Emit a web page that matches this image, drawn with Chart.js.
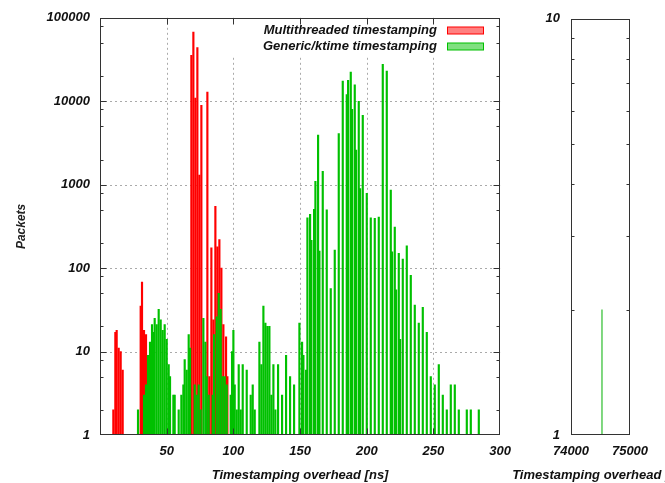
<!DOCTYPE html>
<html>
<head>
<meta charset="utf-8">
<script src="https://cdn.jsdelivr.net/npm/chart.js@4.4.0/dist/chart.umd.min.js"></script>
<style>
  html, body { margin: 0; padding: 0; background: #fff; overflow: hidden; width: 665px; height: 483px; }
  #main { position: absolute; left: 0; top: 0; }
  #side { position: absolute; left: 510px; top: 0; }
</style>
</head>
<body>
<canvas id="main" width="520" height="483"></canvas>
<canvas id="side" width="200" height="483"></canvas>
<script>
// overhead in ns / packet counts
const multiX = [10, 11.5, 12.5, 14, 15.5, 17, 30.5, 31.5, 33, 34.5,
  68.5, 70, 71.5, 73, 74.5, 76, 80.5, 82, 83.5, 85, 86.5, 88, 89.5, 91, 92.5, 94.5, 95.5];
const multiY = [2, 17, 18, 11, 10, 6, 35, 68, 18, 16,
  35500, 67600, 10900, 44000, 1300, 8950, 12900, 5, 175, 24, 550, 180, 220, 100, 21, 15, 5];

const genericX = [28.5, 33, 34.5, 36, 37.5, 39, 40, 41, 42.5, 44, 45.5, 47, 48.5, 50, 51.5, 52.5, 55, 56,
  59, 61, 62.5, 63.5, 65, 66.5, 67.5, 71, 72.5, 74, 75.5, 77.5, 79, 80, 81.5, 84.5, 85.5, 87.5, 89, 90.5,
  92, 93.5, 95, 98, 99, 100, 101, 102.5, 104, 105.5, 107, 110, 113, 114.5, 116, 119.5, 121, 122.5, 124,
  125.5, 127, 128.5, 130, 131.5, 133.5, 136.5, 139.5, 142.5, 145.5, 149.5, 151.5, 152.5, 154.5, 155.5,
  157.5, 158.5, 160.5, 161.5, 163.5, 164.5, 167, 170, 173, 176, 179, 182, 185, 186, 188, 189, 191, 192,
  194, 195, 197, 200, 203, 206, 209, 212, 215, 218, 219, 221, 222, 224, 225, 227, 230, 233, 236, 239,
  242, 245, 248, 251, 254, 257, 260, 263, 266, 269, 275, 278, 284];
const genericY = [2, 3, 4, 9, 13, 21, 17, 25, 21, 32, 24, 18, 21, 14, 7, 5, 3, 3,
  2, 3, 4, 8, 6, 16, 11, 4, 3, 4, 2, 25, 13, 5, 3, 3, 16, 26, 50, 32,
  5, 5, 4, 3, 10, 18, 4, 2, 7, 2, 7, 6, 3, 4, 2, 13, 7, 35, 22,
  20, 20, 3, 7, 2, 7, 3, 9, 5, 4, 22, 13, 9, 6, 400,
  440, 216, 505, 1100, 3920, 160, 1450, 500, 57, 164, 4100, 17400, 12000, 17800, 22400, 8000, 15700, 2590,
  10000, 900, 6800, 790, 400, 395, 410, 27600, 23000, 860, 157, 310, 55, 150, 14, 128, 185, 82, 36, 22,
  34, 17, 5, 4, 7, 3, 2, 4, 4, 2, 2, 2, 2];

const outlierX = [74525];
const outlierY = [2];

const mainXTicks = [50, 100, 150, 200, 250, 300];
const mainYTicks = [1, 10, 100, 1000, 10000, 100000];
const mainMinor = [2, 5, 8];
const sideXTicks = [74000, 75000];
const sideYTicks = [1, 10];
const sideMinor = [2, 3, 4, 5, 6, 7, 8, 9];
const xTitle = 'Timestamping overhead [ns]';

const RED = '#ff0000';
const GREEN = '#00c000';
const font = { family: 'Liberation Sans', size: 13, style: 'italic', weight: 'bold' };
const ink = '#111';

function pts(xs, ys) { return xs.map((x, i) => ({ x: x, y: ys[i] })); }

// gnuplot-ish frame: dotted grid, inward ticks, boxed key
const frame = {
  id: 'frame',
  beforeDatasetsDraw(chart, args, o) {
    const { ctx, chartArea: a, scales: { x, y } } = chart;
    ctx.save();
    ctx.strokeStyle = '#aaa';
    ctx.lineWidth = 1;
    ctx.setLineDash([2, 3]);
    (o.gridX || []).forEach(v => {
      const px = Math.round(x.getPixelForValue(v)) + 0.5;
      ctx.beginPath(); ctx.moveTo(px, a.top); ctx.lineTo(px, a.bottom); ctx.stroke();
    });
    (o.gridY || []).forEach(v => {
      const py = Math.round(y.getPixelForValue(v)) + 0.5;
      ctx.beginPath(); ctx.moveTo(a.left, py); ctx.lineTo(a.right, py); ctx.stroke();
    });
    if (o.key) {
      ctx.fillStyle = '#fff';
      ctx.fillRect(o.key.left, a.top + 1, o.key.right - o.key.left, o.key.bottom - a.top);
    }
    ctx.restore();
  },
  afterDatasetsDraw(chart, args, o) {
    const { ctx, chartArea: a, scales: { x, y } } = chart;
    ctx.save();
    ctx.strokeStyle = '#333';
    ctx.lineWidth = 1;
    const L = Math.round(a.left) + 0.5, R = Math.round(a.right) - 0.5;
    const T = Math.round(a.top) + 0.5, B = Math.round(a.bottom) - 0.5;
    ctx.strokeRect(L, T, R - L, B - T);
    ctx.beginPath();
    (o.tickX || []).forEach(v => {
      const px = Math.round(x.getPixelForValue(v)) + 0.5;
      ctx.moveTo(px, B); ctx.lineTo(px, B - 6);
      ctx.moveTo(px, T); ctx.lineTo(px, T + 6);
    });
    const decades = [];
    for (let d = y.min; d < y.max; d *= 10) decades.push(d);
    decades.slice(1).forEach(v => {
      const py = Math.round(y.getPixelForValue(v)) + 0.5;
      ctx.moveTo(L, py); ctx.lineTo(L + 6, py);
      ctx.moveTo(R, py); ctx.lineTo(R - 6, py);
    });
    decades.forEach(d => (o.minorY || []).forEach(m => {
      const py = Math.round(y.getPixelForValue(d * m)) + 0.5;
      ctx.moveTo(L, py); ctx.lineTo(L + 3, py);
      ctx.moveTo(R, py); ctx.lineTo(R - 3, py);
    }));
    ctx.stroke();

    ctx.font = 'italic bold 13px "Liberation Sans"';
    ctx.textBaseline = 'middle';
    if (o.key) {
      ctx.textAlign = 'right';
      chart.data.datasets.forEach((ds, i) => {
        const yc = o.key.y0 + i * 16;
        ctx.fillStyle = ink;
        ctx.fillText(ds.label, o.key.textRight, yc);
        ctx.fillStyle = ds.keyFill;
        ctx.fillRect(o.key.boxLeft, yc - 3.5, 37, 7);
        ctx.strokeStyle = ds.backgroundColor;
        ctx.strokeRect(o.key.boxLeft + 0.5, yc - 3.5, 36, 7);
      });
    }
    if (o.title) {
      // x title drawn by hand so it is not squeezed into the narrow panel
      ctx.textAlign = 'center';
      ctx.fillStyle = ink;
      ctx.fillText(o.title, (a.left + a.right) / 2, o.titleY);
    }
    ctx.restore();
  }
};

new Chart(document.getElementById('main'), {
  type: 'bar',
  data: {
    datasets: [{
      label: 'Multithreaded timestamping',
      data: pts(multiX, multiY),
      backgroundColor: RED,
      keyFill: '#ff8080',
      barThickness: 1.5,
      grouped: false,
      order: 2
    }, {
      label: 'Generic/ktime timestamping',
      data: pts(genericX, genericY),
      backgroundColor: GREEN,
      keyFill: '#80e080',
      barThickness: 1.5,
      grouped: false,
      order: 1
    }]
  },
  options: {
    responsive: false,
    animation: false,
    layout: { padding: { left: 0, top: 17.5, right: 19, bottom: 0 } },
    plugins: {
      legend: { display: false },
      tooltip: { enabled: false },
      frame: {
        gridX: [50, 100, 150, 200, 250],
        gridY: [10, 100, 1000, 10000],
        tickX: [50, 100, 150, 200, 250],
        minorY: mainMinor,
        key: { left: 226, right: 496, bottom: 54, y0: 30.5, textRight: 437, boxLeft: 447 }
      }
    },
    scales: {
      x: {
        type: 'linear', min: 0, max: 300, offset: false,
        afterBuildTicks: s => { s.ticks = mainXTicks.map(v => ({ value: v })); },
        afterFit: s => { s.height = 48; },
        grid: { display: false, drawTicks: false, offset: false },
        border: { display: false },
        ticks: { padding: 9, maxRotation: 0, autoSkip: false, color: ink, font: font },
        title: { display: true, text: xTitle, color: ink, font: font, padding: 0 }
      },
      y: {
        type: 'logarithmic', min: 1, max: 100000,
        afterBuildTicks: s => { s.ticks = mainYTicks.map(v => ({ value: v })); },
        afterFit: s => { s.width = 100; },
        grid: { display: false, drawTicks: false },
        border: { display: false },
        ticks: { padding: 10, autoSkip: false, color: ink, font: font, callback: v => String(v) },
        title: { display: true, text: 'Packets', color: '#222',
          font: { family: 'Liberation Sans', size: 12, style: 'italic', weight: 'bold' },
          padding: { top: 14, bottom: 0 } }
      }
    }
  },
  plugins: [frame]
});

new Chart(document.getElementById('side'), {
  type: 'bar',
  data: {
    datasets: [{
      label: 'Generic/ktime timestamping',
      data: pts(outlierX, outlierY),
      backgroundColor: '#66d066',
      barThickness: 1,
      grouped: false
    }]
  },
  options: {
    responsive: false,
    animation: false,
    layout: { padding: { left: 0, top: 17.3, right: 80, bottom: 0 } },
    plugins: {
      legend: { display: false },
      tooltip: { enabled: false },
      frame: { minorY: sideMinor, title: xTitle, titleY: 475.5 }
    },
    scales: {
      x: {
        type: 'linear', min: 74000, max: 75000, offset: false,
        afterBuildTicks: s => { s.ticks = sideXTicks.map(v => ({ value: v })); },
        afterFit: s => { s.height = 48; },
        grid: { display: false, drawTicks: false, offset: false },
        border: { display: false },
        ticks: { padding: 9, maxRotation: 0, autoSkip: false, color: ink, font: font, callback: v => String(v) }
      },
      y: {
        type: 'logarithmic', min: 1, max: 10,
        afterBuildTicks: s => { s.ticks = sideYTicks.map(v => ({ value: v })); },
        afterFit: s => { s.width = 61; },
        grid: { display: false, drawTicks: false },
        border: { display: false },
        ticks: { padding: 11, autoSkip: false, color: ink, font: font, callback: v => String(v) }
      }
    }
  },
  plugins: [frame]
});
</script>
</body>
</html>
